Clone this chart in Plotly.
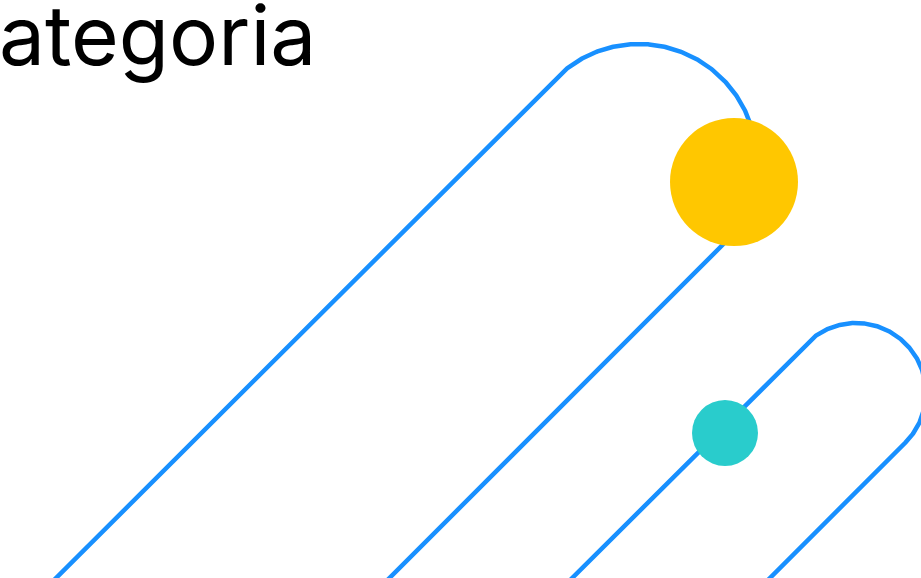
import numpy as np
import plotly.graph_objects as go

# ---- data (axis units: x 0..921 left->right, y 0..578 top->bottom) ----
title_text = "Categoria"

hairpins = ["large", "small"]
leg_a_sum = [634.0, 1150.0]    # x + y along the left (rising) leg
leg_b_sum = [967.5, 1348.0]    # x + y along the right (falling) leg
arc_top_y = [44.0, 323.0]      # highest point of the bend

dot_names = ["yellow", "teal"]
dot_x = [734.0, 725.0]
dot_y = [182.0, 433.0]
dot_d = [128, 66]
dot_colors = ["#FFC700", "#29CCCC"]

line_color = "#1890FF"

W, H = 921, 578

fig = go.Figure()

for name, s1, s2, top in zip(hairpins, leg_a_sum, leg_b_sum, arc_top_y):
    R = (s2 - s1) / (2 * np.sqrt(2))
    cy = top + R
    cx = (s1 + s2) / 2 - cy
    t = np.radians(np.linspace(225, 405, 361))
    ax = cx + R * np.cos(t)
    ay = cy + R * np.sin(t)
    yb = H + 40
    xs = np.concatenate([[s1 - yb], ax, [s2 - yb]])
    ys = np.concatenate([[yb], ay, [yb]])
    fig.add_trace(go.Scatter(x=xs, y=ys, mode="lines", name=name,
                             line=dict(color=line_color, width=4.5),
                             hoverinfo="skip", showlegend=False))

fig.add_trace(go.Scatter(x=dot_x, y=dot_y, mode="markers", text=dot_names,
                         marker=dict(size=dot_d, color=dot_colors, opacity=1,
                                     line=dict(width=0)),
                         showlegend=False, cliponaxis=False))

fig.add_annotation(x=318, y=35.5, xref="x", yref="y", text=title_text,
                   showarrow=False, xanchor="right", yanchor="middle",
                   font=dict(family="Inter", size=82, color="#000000"))

fig.update_xaxes(range=[0, W], visible=False, fixedrange=True)
fig.update_yaxes(range=[H, 0], visible=False, fixedrange=True)
fig.update_layout(width=W, height=H, margin=dict(l=0, r=0, t=0, b=0),
                  paper_bgcolor="white", plot_bgcolor="white",
                  showlegend=False)

fig.write_html("out.html", config={"displayModeBar": False},
               post_script="document.body.style.margin='0';"
                           "document.body.style.overflow='hidden';")
